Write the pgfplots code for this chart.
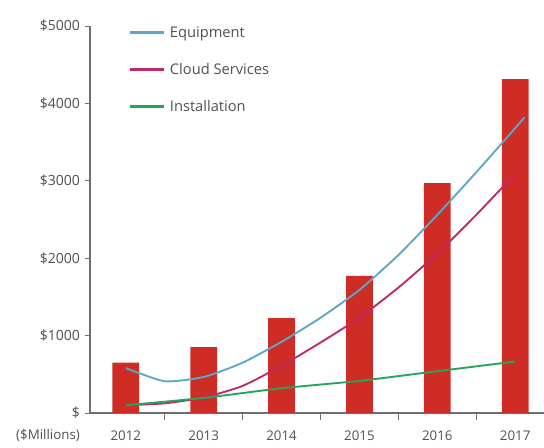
\documentclass[border=0pt]{standalone}
\usepackage{pgfplots}
\pgfplotsset{compat=1.18}
\usepackage{fontspec}
\setmainfont{Open Sans}
\definecolor{barred}{RGB}{208,44,38}
\definecolor{equip}{RGB}{90,168,200}
\definecolor{cloud}{RGB}{190,40,110}
\definecolor{inst}{RGB}{35,165,90}
\definecolor{axisgray}{RGB}{110,110,110}
\definecolor{labgray}{RGB}{80,80,80}
\begin{document}
\begin{tikzpicture}
\useasboundingbox (0,0) rectangle (408pt,336pt);
\begin{axis}[
  at={(67.5pt,26.25pt)}, anchor=south west,
  scale only axis, width=340.5pt, height=290.25pt,
  xmin=-0.46, xmax=5.37, ymin=0, ymax=5000,
  axis x line=bottom, axis y line=left,
  axis line style={-, draw=axisgray, line width=0.8pt},
  xtick={0,...,5}, xticklabels={2012,2013,2014,2015,2016,2017},
  minor xtick={0.5,1.5,2.5,3.5,4.5},
  ytick={0,1000,...,5000},
  yticklabels={\$,\$1000,\$2000,\$3000,\$4000,\$5000},
  tick align=outside,
  major tick length=4pt, minor tick length=5pt,
  tick style={draw=axisgray, line width=0.6pt},
  every major x tick/.append style={draw=none},
  ticklabel style={text=labgray},
  xticklabel style={font=\fontsize{10}{12}\selectfont, yshift=-6pt},
  yticklabel style={font=\fontsize{10.5}{12}\selectfont},
  /pgf/number format/assume math mode=true,
  legend style={draw=none, fill=none, at={(0.0837,1.01)}, anchor=north west,
    inner sep=0pt, row sep=12pt, font=\fontsize{11}{13}\selectfont, text=labgray,
    nodes={inner sep=3pt}},
  legend cell align=left,
  legend image code/.code={\draw[#1, line width=2.25pt] (0pt,0pt) -- (26pt,0pt);},
  clip=false,
]
\addplot[ybar, bar width=20pt, fill=barred, draw=none, forget plot]
  coordinates {(0,650) (1,850) (2,1225) (3,1770) (4,2970) (5,4315)};
\addplot[equip, line width=1.4pt, smooth, tension=0.35]
  coordinates {(0,580) (0.5,410) (1,465) (1.5,650) (2,920) (2.5,1230) (3,1590) (3.5,2040) (4,2560) (4.5,3110) (5,3680) (5.12,3820)};
\addlegendentry{Equipment}
\addplot[cloud, line width=1.4pt, smooth, tension=0.35]
  coordinates {(0,100) (0.5,125) (1,200) (1.5,350) (2,610) (2.5,910) (3,1230) (3.5,1620) (4,2060) (4.5,2560) (5,3090)};
\addlegendentry{Cloud Services}
\addplot[inst, line width=1.4pt, smooth, tension=0.35]
  coordinates {(0,100) (1,195) (2,320) (3,415) (4,540) (5,665)};
\addlegendentry{Installation}
\node[anchor=north, font=\fontsize{10}{12}\selectfont, text=labgray, inner sep=2pt, yshift=-10pt] at (rel axis cs:-0.0925,0) {(\$Millions)};
\end{axis}
\end{tikzpicture}
\end{document}
